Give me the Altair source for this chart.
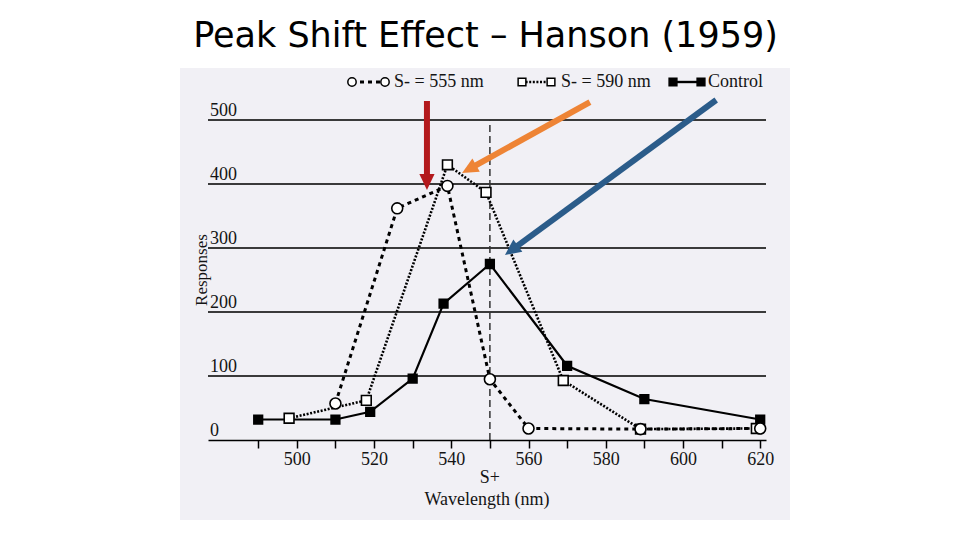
import altair as alt
import pandas as pd
import math

# ---------------- data ----------------
ctrl_x = [490, 510, 519, 530, 538, 550, 570, 590, 620]
ctrl_y = [32, 32, 44, 96, 213, 275, 116, 64, 32]

s590_x = [498, 518, 539, 549, 569, 589, 619]
s590_y = [34, 62, 430, 387, 93, 17, 18]

s555_x = [510, 526, 539, 550, 560, 589, 620]
s555_y = [57, 362, 397, 95, 18, 17, 18]

series_names = ["S- = 555 nm", "S- = 590 nm", "Control"]
y_ticks = [0, 100, 200, 300, 400, 500]
x_ticks = list(range(490, 621, 10))
x_tick_labels = [500, 520, 540, 560, 580, 600, 620]
s_plus = 550
title_text = "Peak Shift Effect \u2013 Hanson (1959)"
x_title = "Wavelength (nm)"
y_title = "Responses"
s_plus_label = "S+"

# arrows: (start x, start y, tip x, tip y, colour) in data units
arrow_start_x = [533.7, 575.9, 608.6]
arrow_start_y = [529.7, 528.1, 531.3]
arrow_tip_x = [533.7, 542.8, 553.9]
arrow_tip_y = [390.6, 417.2, 289.1]
arrow_colors = ["#b3191c", "#ee8435", "#2b5c8a"]

# ---------------- layout ----------------
X0, X1 = 477, 621.5
W, H = 558, 320
PX_LEFT, PX_TOP = 208, 120      # page position of plot origin
PXN = W / (X1 - X0)
PYV = H / 500.0

def px2x(px):
    return X0 + (px - PX_LEFT) / PXN

def py2y(py):
    return (PX_TOP + H - py) / PYV

SERIF = "Liberation Serif"
TXT = "#141414"
Xs = alt.Scale(domain=[X0, X1], nice=False, zero=False)
Ys = alt.Scale(domain=[0, 500], nice=False, zero=False)

label_expr = "indexof([" + ",".join(str(v) for v in x_tick_labels) + "], datum.value) >= 0 ? datum.label : ''"
XAXIS = alt.Axis(values=x_ticks, labelExpr=label_expr, title=None, grid=False, zindex=1,
                 domainColor="black", domainWidth=1.6, tickColor="black", tickWidth=1.5,
                 tickSize=8, labelFont=SERIF, labelFontSize=18, labelColor=TXT,
                 labelPadding=2, labelFlush=False, labelOverlap=False)

def XE(f="x"):
    return alt.X(f + ":Q", scale=Xs, axis=XAXIS)

def YE(f="y"):
    return alt.Y(f + ":Q", scale=Ys, axis=None)

dummy = pd.DataFrame({"d": [0]})

layers = []

# scanned page background
layers.append(alt.Chart(dummy).mark_rect(color="#f1f0f5").encode(
    x=alt.value(180 - PX_LEFT), x2=alt.value(790 - PX_LEFT),
    y=alt.value(68 - PX_TOP), y2=alt.value(520 - PX_TOP)))

# gridlines
layers.append(alt.Chart(pd.DataFrame({"y": y_ticks[1:]})).mark_rule(
    color="#3a3a3a", strokeWidth=2).encode(y=YE(), x=alt.value(0), x2=alt.value(W)))

# y tick labels
layers.append(alt.Chart(pd.DataFrame({"y": y_ticks, "t": [str(v) for v in y_ticks]})).mark_text(
    font=SERIF, fontSize=18, align="left", baseline="alphabetic", dy=-4, color=TXT).encode(
    y=YE(), x=alt.value(2), text="t:N"))

# S+ dashed line
layers.append(alt.Chart(pd.DataFrame({"x": [s_plus], "y": [0], "y2": [500]})).mark_rule(
    color="#333", strokeWidth=1.5, strokeDash=[7, 4]).encode(x=XE(), y=YE(), y2="y2:Q"))

def series(xs, ys, width, dash, shape, fill, size):
    df = pd.DataFrame({"x": xs, "y": ys})
    kw = dict(color="black", strokeWidth=width)
    if dash:
        kw["strokeDash"] = dash
    ln = alt.Chart(df).mark_line(**kw).encode(x=XE(), y=YE())
    pt = alt.Chart(df).mark_point(shape=shape, filled=True, fill=fill, stroke="black",
                                  strokeWidth=1.6, size=size, opacity=1).encode(x=XE(), y=YE())
    return ln, pt

l1, p1 = series(s555_x, s555_y, 3, [4, 4], "circle", "white", 120)
l2, p2 = series(s590_x, s590_y, 2.6, [2, 1.6], "square", "white", 95)
l3, p3 = series(ctrl_x, ctrl_y, 2.2, None, "square", "black", 75)
layers += [l3, l2, l1, p3, p2, p1]

# legend (drawn above the plot)
leg_y = py2y(82)
leg_sym = [(352, 385), (522, 551), (673, 701)]
leg_text_x = [394, 561, 708]
leg_styles = [(3, [4, 4], "circle", "white", 70),
              (2.6, [2, 1.6], "square", "white", 60),
              (2.4, None, "square", "black", 60)]
for (a, b), tx, name, (wd, ds, shp, fl, sz) in zip(leg_sym, leg_text_x, series_names, leg_styles):
    df = pd.DataFrame({"x": [px2x(a), px2x(b)], "y": [leg_y, leg_y]})
    kw = dict(color="black", strokeWidth=wd)
    if ds:
        kw["strokeDash"] = ds
    layers.append(alt.Chart(df).mark_line(**kw).encode(x=XE(), y=YE()))
    layers.append(alt.Chart(df).mark_point(shape=shp, filled=True, fill=fl, stroke="black",
                                           strokeWidth=1.5, size=sz, opacity=1).encode(x=XE(), y=YE()))
    layers.append(alt.Chart(pd.DataFrame({"x": [px2x(tx)], "y": [leg_y], "t": [name]})).mark_text(
        font=SERIF, fontSize=18, align="left", baseline="middle", color=TXT).encode(
        x=XE(), y=YE(), text="t:N"))

# arrows
rows = []
for sx, sy, tx, ty, c in zip(arrow_start_x, arrow_start_y, arrow_tip_x, arrow_tip_y, arrow_colors):
    dxp = (tx - sx) * PXN
    dyp = -(ty - sy) * PYV
    ln = math.hypot(dxp, dyp)
    ux, uy = dxp / ln, dyp / ln
    ex = tx - 12 * ux / PXN
    ey = ty + 12 * uy / PYV
    ang = math.degrees(math.atan2(ux, -uy)) % 360
    rows.append({"x": sx, "y": sy, "x2": ex, "y2": ey, "tx": tx, "ty": ty, "c": c, "a": ang})
adf = pd.DataFrame(rows)
layers.append(alt.Chart(adf).mark_rule(strokeWidth=6, strokeCap="butt").encode(
    x=XE(), y=YE(), x2="x2:Q", y2="y2:Q", color=alt.Color("c:N", scale=None)))
layers.append(alt.Chart(adf).mark_point(shape="M0,0L0.95,2L-0.95,2Z", filled=True, size=256,
                                        opacity=1, strokeWidth=0).encode(
    x=XE("tx"), y=YE("ty"), color=alt.Color("c:N", scale=None),
    angle=alt.Angle("a:Q", scale=None)))

# texts
layers.append(alt.Chart(pd.DataFrame({"x": [s_plus], "t": [s_plus_label]})).mark_text(
    font=SERIF, fontSize=18, align="center", baseline="middle", color=TXT).encode(
    x=XE(), y=alt.value(478 - PX_TOP), text="t:N"))
layers.append(alt.Chart(pd.DataFrame({"t": [x_title]})).mark_text(
    font=SERIF, fontSize=18, align="center", baseline="middle", color=TXT).encode(
    x=alt.value(487 - PX_LEFT), y=alt.value(500 - PX_TOP), text="t:N"))
layers.append(alt.Chart(pd.DataFrame({"t": [y_title]})).mark_text(
    font=SERIF, fontSize=17, align="center", baseline="middle", angle=270, color=TXT).encode(
    x=alt.value(202 - PX_LEFT), y=alt.value(270 - PX_TOP), text="t:N"))
layers.append(alt.Chart(pd.DataFrame({"t": [title_text]})).mark_text(
    font="DejaVu Sans", fontSize=35, align="center", baseline="alphabetic", color="black").encode(
    x=alt.value(485.5 - PX_LEFT), y=alt.value(47 - PX_TOP), text="t:N"))

chart = alt.layer(*layers).properties(
    width=W, height=H,
    autosize=alt.AutoSizeParams(type="none"),
    padding={"left": PX_LEFT - 8, "top": PX_TOP - 8,
             "right": 944 - (PX_LEFT - 8) - W, "bottom": 524 - (PX_TOP - 8) - H},
).configure_view(stroke=None)

chart.save("out.html", embed_options={"renderer": "svg", "actions": False})
